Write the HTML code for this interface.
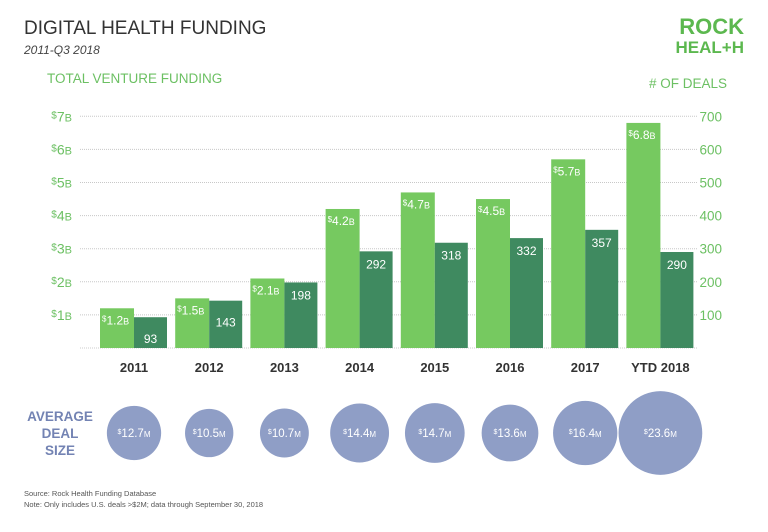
<!DOCTYPE html>
<html><head><meta charset="utf-8"><style>
body{margin:0;background:#fff;font-family:"Liberation Sans",sans-serif}
svg text{font-family:"Liberation Sans",sans-serif}
</style></head><body>
<svg width="768" height="527" viewBox="0 0 768 527">
<text x="24" y="34" font-size="19" fill="#333">DIGITAL HEALTH FUNDING</text>
<text x="24" y="54" font-size="12" font-style="italic" fill="#444">2011-Q3 2018</text>
<g fill="#5cb84f" font-weight="bold">
<text x="744" y="34" font-size="22" text-anchor="end">ROCK</text>
<text x="744" y="53" font-size="17" text-anchor="end">HEAL+H</text>
</g>
<text x="47" y="83" font-size="13.5" fill="#6cc063">TOTAL VENTURE FUNDING</text>
<text x="727" y="88" font-size="13.5" fill="#6cc063" text-anchor="end"># OF DEALS</text>
<g id="grid"></g><g id="bars"></g><g id="bubbles"></g>
<g fill="#7383b3" font-weight="bold" font-size="13.5" text-anchor="middle">
<text x="60" y="421">AVERAGE</text><text x="60" y="438">DEAL</text><text x="60" y="455">SIZE</text>
</g>
<text x="24" y="496" font-size="7.5" fill="#555">Source: Rock Health Funding Database</text>
<text x="24" y="507" font-size="7.5" fill="#555">Note: Only includes U.S. deals &gt;$2M; data through September 30, 2018</text>
</svg>
<script>
const categories=["2011","2012","2013","2014","2015","2016","2017","YTD 2018"];
const funding=[1.2,1.5,2.1,4.2,4.7,4.5,5.7,6.8];
const deals=[93,143,198,292,318,332,357,290];
const dealSize=[12.7,10.5,10.7,14.4,14.7,13.6,16.4,23.6];
const fundTicks=[1,2,3,4,5,6,7];
const dealTicks=[100,200,300,400,500,600,700];
const NS="http://www.w3.org/2000/svg";
const y0=348,pxPerB=33.1;
const yF=v=>y0-v*pxPerB, yD=v=>y0-v/100*pxPerB;
const xC=i=>100+i*75.2;
const rS=v=>10+1.35*v;
function mk(t,a,p,txt){const e=document.createElementNS(NS,t);for(const k in a)e.setAttribute(k,a[k]);if(txt!==undefined)e.textContent=txt;p.appendChild(e);return e;}
const grid=document.getElementById('grid'),bars=document.getElementById('bars'),bub=document.getElementById('bubbles');
mk('line',{x1:80,x2:697,y1:y0,y2:y0,stroke:'#ccc','stroke-dasharray':'1,1'},grid);
fundTicks.forEach((t,i)=>{const y=yF(t);
const l=mk('line',{x1:80,x2:697,y1:y,y2:y,stroke:'#c8c8c8','stroke-dasharray':'1,1'},grid);


const tl=mk('text',{x:72,y:y+5,'font-size':14,fill:'#6cc063','text-anchor':'end'},grid);


mk('tspan',{'font-size':10,dy:-3},tl,'$');mk('tspan',{dy:3},tl,t);mk('tspan',{'font-size':11},tl,'B');
});
dealTicks.forEach(t=>{const tx=mk('text',{x:722,y:yD(t)+5,'font-size':13.5,fill:'#6cc063','text-anchor':'end'},grid,t);

});
categories.forEach((c,i)=>{const x=xC(i),w=34;
const g=mk('g',{},bars);


const b1=mk('rect',{x:x,y:yF(funding[i]),width:w,height:y0-yF(funding[i]),fill:'#76c960'},g);


const b2=mk('rect',{x:x+w,y:yD(deals[i]),width:w-1,height:y0-yD(deals[i]),fill:'#3f8a60'},g);


const ft=mk('text',{x:x+2,y:yF(funding[i])+16,'font-size':12,fill:'#fff'},g);


mk('tspan',{'font-size':8,dy:-3},ft,'$');mk('tspan',{dy:3},ft,funding[i].toFixed(1));mk('tspan',{'font-size':9},ft,'B');
const dt=mk('text',{x:x+w+(w-1)/2,y:yD(deals[i])+(i<2?26:17),'font-size':12,fill:'#fff','text-anchor':'middle'},g,deals[i]);


const ct=mk('text',{x:x+w,y:372,'font-size':13,'font-weight':'bold',fill:'#333','text-anchor':'middle'},g,c);


const r=rS(dealSize[i]);
const cx=x+w;
const cc=mk('circle',{cx:cx,cy:433,r:r,fill:'#8f9ec6'},bub);


const bt=mk('text',{x:cx,y:437,'font-size':11.5,fill:'#fff','text-anchor':'middle'},bub);


mk('tspan',{'font-size':7,dy:-3},bt,'$');mk('tspan',{dy:3},bt,dealSize[i].toFixed(1));mk('tspan',{'font-size':8},bt,'M');
});
</script>
</body></html>
